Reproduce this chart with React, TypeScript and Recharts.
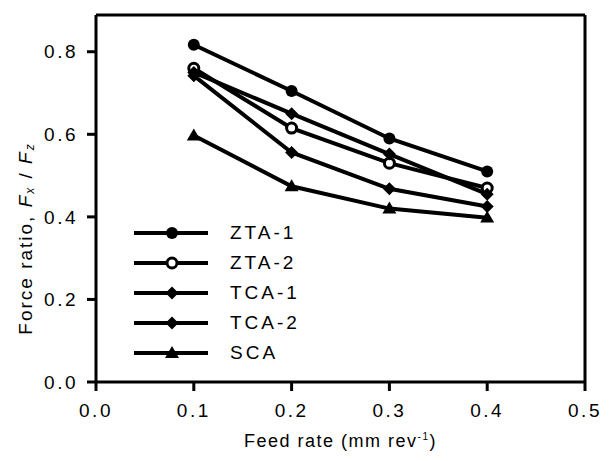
import React from "react";
import { LineChart, Line, XAxis, YAxis, ReferenceLine, Legend } from "recharts";

const feedRates = [0.1, 0.2, 0.3, 0.4];
const zta1 = [0.817, 0.705, 0.59, 0.51];
const zta2 = [0.76, 0.615, 0.53, 0.47];
const tca1 = [0.75, 0.65, 0.552, 0.455];
const tca2 = [0.742, 0.556, 0.468, 0.425];
const sca = [0.597, 0.474, 0.42, 0.398];
const xTicks = [0, 0.1, 0.2, 0.3, 0.4, 0.5];
const yTicks = [0, 0.2, 0.4, 0.6, 0.8];

const seriesNames = ["ZTA-1", "ZTA-2", "TCA-1", "TCA-2", "SCA"];
const seriesKeys = ["zta1", "zta2", "tca1", "tca2", "sca"];
const seriesShapes = ["circle", "open", "diamond", "diamond", "triangle"];

const data = feedRates.map((f, i) => ({
  f,
  zta1: zta1[i],
  zta2: zta2[i],
  tca1: tca1[i],
  tca2: tca2[i],
  sca: sca[i],
}));

const FONT = "'Liberation Sans', Arial, Helvetica, sans-serif";

function Marker({ cx, cy, shape }: { cx: number; cy: number; shape: string }) {
  if (shape === "circle") return <circle cx={cx} cy={cy} r={6} fill="#000" />;
  if (shape === "open")
    return <circle cx={cx} cy={cy} r={5} fill="#fff" stroke="#000" strokeWidth={3} />;
  if (shape === "diamond") {
    const s = 6.5;
    return (
      <polygon
        points={`${cx},${cy - s} ${cx + s},${cy} ${cx},${cy + s} ${cx - s},${cy}`}
        fill="#000"
      />
    );
  }
  const s = 7;
  return (
    <polygon
      points={`${cx},${cy - s} ${cx + s},${cy + s * 0.7} ${cx - s},${cy + s * 0.7}`}
      fill="#000"
    />
  );
}

const makeDot = (shape: string) => (props: any) => {
  const { cx, cy, index } = props;
  if (cx == null || cy == null) return <g key={index} />;
  return <Marker key={index} cx={cx} cy={cy} shape={shape} />;
};

function LegendBox() {
  return (
    <div style={{ fontFamily: FONT }}>
      {seriesNames.map((n, i) => (
        <div key={n} style={{ display: "flex", alignItems: "center", height: 30 }}>
          <svg width={76} height={20} style={{ display: "block" }}>
            <line x1={1} y1={10} x2={75} y2={10} stroke="#000" strokeWidth={4} />
            <Marker cx={39} cy={10} shape={seriesShapes[i]} />
          </svg>
          <span
            style={{
              marginLeft: 21,
              fontSize: 19,
              letterSpacing: 3,
              color: "#000",
              lineHeight: "20px",
            }}
          >
            {n}
          </span>
        </div>
      ))}
    </div>
  );
}

function YLabel(props: any) {
  const vb = props.viewBox || { x: 0, y: 0, width: 0, height: 0 };
  const x = vb.x + 17;
  const y = vb.y + vb.height / 2 + 40;
  return (
    <text
      x={x}
      y={y}
      transform={`rotate(-90, ${x}, ${y})`}
      textAnchor="middle"
      dominantBaseline="central"
      fontFamily={FONT}
      fontSize={19}
      letterSpacing={2}
      fill="#000"
    >
      Force ratio, <tspan fontStyle="italic">F</tspan>
      <tspan fontSize={12} dy={5} fontStyle="italic">x</tspan>
      <tspan dy={-5}> / </tspan>
      <tspan fontStyle="italic">F</tspan>
      <tspan fontSize={12} dy={5} fontStyle="italic">z</tspan>
    </text>
  );
}

function XLabel(props: any) {
  const vb = props.viewBox || { x: 0, y: 0, width: 0, height: 0 };
  const x = vb.x + vb.width / 2;
  const y = vb.y + 65;
  return (
    <text
      x={x}
      y={y}
      textAnchor="middle"
      fontFamily={FONT}
      fontSize={18}
      letterSpacing={1.5}
      fill="#000"
    >
      Feed rate (mm rev
      <tspan fontSize={10} dy={-7}>-1</tspan>
      <tspan dy={7}>)</tspan>
    </text>
  );
}

const tickStyle = { fontFamily: FONT, fontSize: 19, fill: "#000", letterSpacing: 2.5 };

export default function App() {
  return (
    <LineChart
      width={601}
      height={453}
      data={data}
      margin={{ top: 7, right: 24, bottom: 49, left: 0 }}
    >
      <XAxis
        dataKey="f"
        type="number"
        domain={[0, 0.5]}
        ticks={xTicks}
        tickFormatter={(v: number) => v.toFixed(1)}
        height={30}
        stroke="#000"
        strokeWidth={3}
        tickSize={9}
        tickMargin={13}
        tick={tickStyle}
        tickLine={{ stroke: "#000", strokeWidth: 3 }}
        label={<XLabel />}
        allowDataOverflow
      />
      <YAxis
        type="number"
        domain={[0, 0.889]}
        ticks={yTicks}
        tickFormatter={(v: number) => v.toFixed(1)}
        width={88}
        stroke="#000"
        strokeWidth={3}
        tickSize={9}
        tickMargin={9}
        tick={tickStyle}
        tickLine={{ stroke: "#000", strokeWidth: 3 }}
        label={<YLabel />}
        allowDataOverflow
      />
      <ReferenceLine y={0.889} stroke="#000" strokeWidth={3} ifOverflow="visible" />
      <ReferenceLine x={0.5} stroke="#000" strokeWidth={3} ifOverflow="visible" />
      {seriesKeys.map((k, i) => (
        <Line
          key={k}
          dataKey={k}
          name={seriesNames[i]}
          stroke="#000"
          strokeWidth={4}
          dot={makeDot(seriesShapes[i])}
          activeDot={false}
          isAnimationActive={false}
        />
      ))}
      <Legend
        layout="vertical"
        align="center"
        verticalAlign="middle"
        content={() => <LegendBox />}
        wrapperStyle={{ left: 125, top: 210, width: 200, right: "auto", bottom: "auto" }}
      />
    </LineChart>
  );
}
